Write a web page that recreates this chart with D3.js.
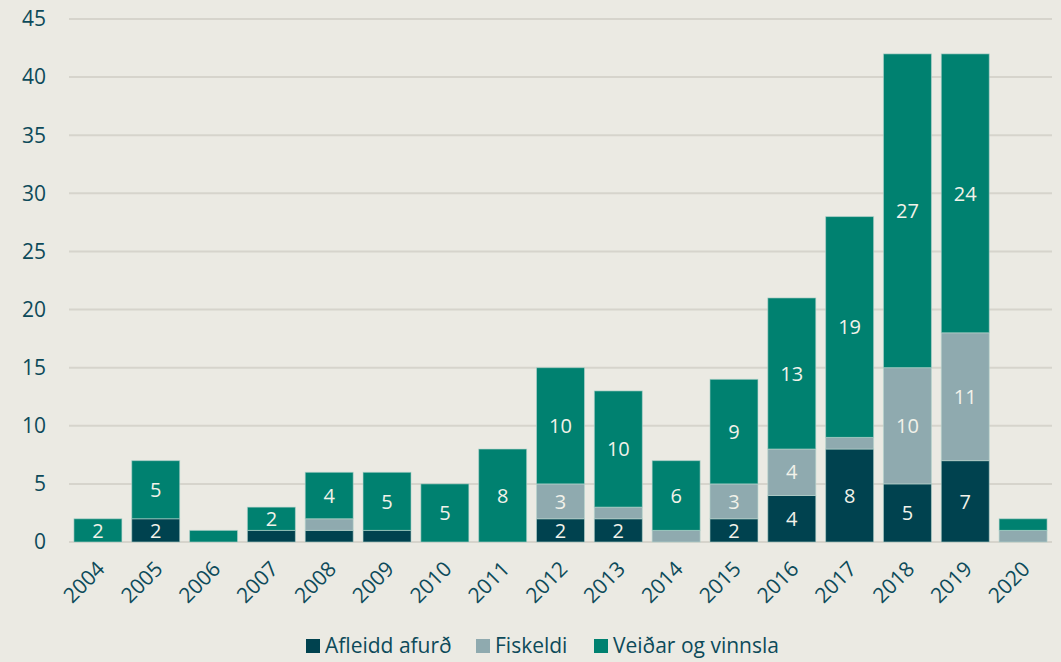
<!DOCTYPE html>
<html>
<head>
<meta charset="utf-8">
<script src="https://cdn.jsdelivr.net/npm/d3@7"></script>
<style>
  body { margin: 0; background: #ebeae3; }
  svg { display: block; font-family: "Open Sans", sans-serif; }
</style>
</head>
<body>
<div id="chart"></div>
<script>
// data
const years = ["2004","2005","2006","2007","2008","2009","2010","2011","2012","2013","2014","2015","2016","2017","2018","2019","2020"];
const afleidd = [0,2,0,1,1,1,0,0,2,2,0,2,4,8,5,7,0];
const fiskeldi = [0,0,0,0,1,0,0,0,3,1,1,3,4,1,10,11,1];
const veidar = [2,5,1,2,4,5,5,8,10,10,6,9,13,19,27,24,1];
const seriesNames = ["Afleidd afurð", "Fiskeldi", "Veiðar og vinnsla"];
const colors = ["#00424f", "#8faaaf", "#008170"];
const yTicks = [0,5,10,15,20,25,30,35,40,45];

const width = 1061, height = 662;
const margin = {left: 69, right: 9, top: 19, bottom: 120};

const svg = d3.select("#chart").append("svg")
    .attr("width", width)
    .attr("height", height);

const rows = years.map((y, i) => ({year: y, s0: afleidd[i], s1: fiskeldi[i], s2: veidar[i]}));
const stack = d3.stack().keys(["s0", "s1", "s2"]);
const stacked = stack(rows);

const x = d3.scaleBand()
    .domain(years)
    .range([margin.left, width - margin.right])
    .paddingInner(0.17)
    .paddingOuter(0.085);

const y = d3.scaleLinear()
    .domain([0, 45])
    .range([height - margin.bottom, margin.top]);

// gridlines
svg.append("g")
    .selectAll("line")
    .data(yTicks)
    .enter().append("line")
    .attr("x1", margin.left)
    .attr("x2", width - margin.right)
    .attr("y1", d => y(d))
    .attr("y2", d => y(d))
    .attr("stroke", "#d6d4cc")
    .attr("stroke-width", 2);

// y tick labels
svg.append("g")
    .selectAll("text")
    .data(yTicks)
    .enter().append("text")
    .attr("x", 46)
    .attr("y", d => y(d))
    .attr("dy", "0.35em")
    .attr("text-anchor", "end")
    .attr("fill", "#0d4a5a")
    .attr("font-size", 21)
    .text(d => d);

// bars
const layers = svg.append("g")
    .selectAll("g")
    .data(stacked)
    .enter().append("g")
    .attr("fill", (d, i) => colors[i]);

layers.selectAll("rect")
    .data(d => d.filter(p => p[1] - p[0] > 0))
    .enter().append("rect")
    .attr("x", d => x(d.data.year))
    .attr("width", x.bandwidth())
    .attr("y", d => y(d[1]))
    .attr("height", d => y(d[0]) - y(d[1]))
    .attr("stroke", "#b9d6cf")
    .attr("stroke-opacity", 0.6)
    .attr("stroke-width", 1);

// value labels
layers.selectAll("text")
    .data(d => d.filter(p => p[1] - p[0] >= 2))
    .enter().append("text")
    .attr("x", d => x(d.data.year) + x.bandwidth() / 2)
    .attr("y", d => (y(d[0]) + y(d[1])) / 2)
    .attr("dy", "0.36em")
    .attr("text-anchor", "middle")
    .attr("fill", "#f2f2ea")
    .attr("font-size", 20)
    .text(d => d[1] - d[0]);

// x labels
svg.append("g")
    .selectAll("text")
    .data(years)
    .enter().append("text")
    .attr("transform", d => `translate(${x(d) + x.bandwidth() / 2 + 3},${height - margin.bottom + 23}) rotate(-45)`)
    .attr("text-anchor", "end")
    .attr("dy", "0.35em")
    .attr("fill", "#0d4a5a")
    .attr("font-size", 21)
    .text(d => d);

// legend
const legendX = [306, 476, 594];
const legend = svg.append("g")
    .selectAll("g")
    .data(seriesNames)
    .enter().append("g")
    .attr("transform", (d, i) => `translate(${legendX[i]},639)`);

legend.append("rect")
    .attr("width", 14)
    .attr("height", 14)
    .attr("fill", (d, i) => colors[i]);

legend.append("text")
    .attr("x", 19)
    .attr("y", 7)
    .attr("dy", "0.35em")
    .attr("fill", "#0d4a5a")
    .attr("font-size", 21)
    .text(d => d);
</script>
</body>
</html>
